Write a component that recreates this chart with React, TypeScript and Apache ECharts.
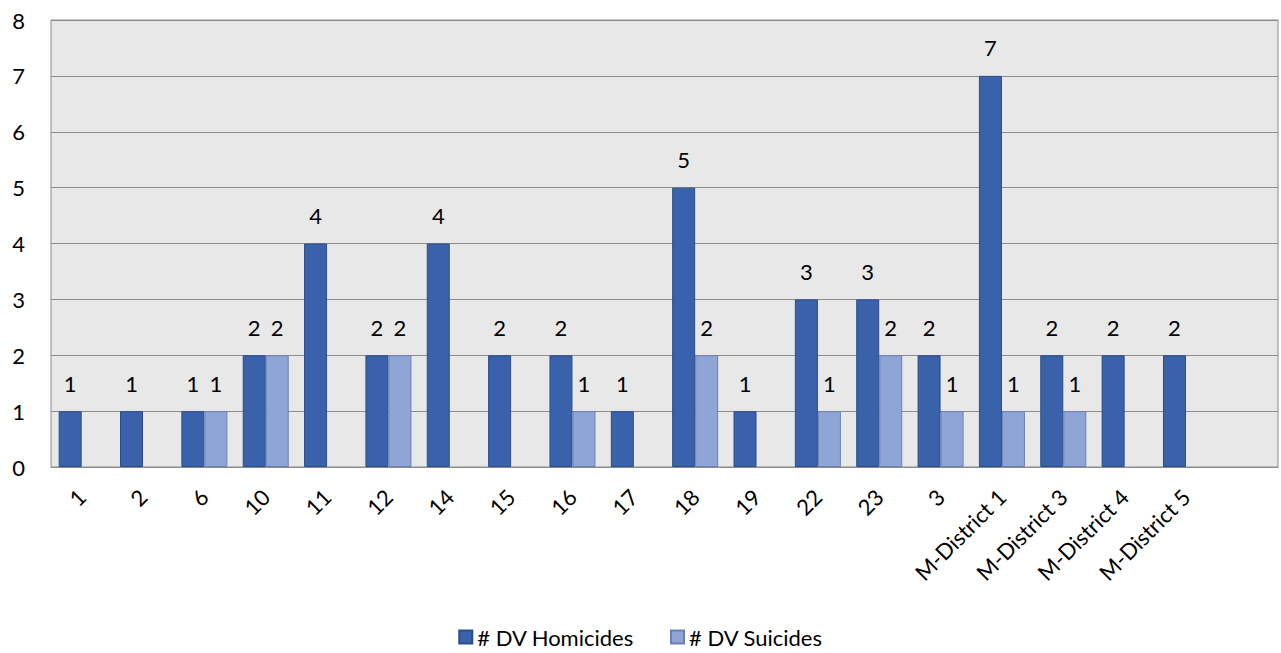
import React, { useEffect, useRef } from "react";
import * as echarts from "echarts";

const categories = ["1", "2", "6", "10", "11", "12", "14", "15", "16", "17", "18", "19", "22", "23", "3", "M-District 1", "M-District 3", "M-District 4", "M-District 5", ""];
const homicides: (number | null)[] = [1, 1, 1, 2, 4, 2, 4, 2, 2, 1, 5, 1, 3, 3, 2, 7, 2, 2, 2, null];
const suicides: (number | null)[] = [null, null, 1, 2, null, 2, null, null, 1, null, 2, null, 1, 2, 1, 1, 1, null, null, null];
const yTicks = [0, 8, 1];

const FONT = "Lato, 'Noto Sans', sans-serif";
const FS = 22;

export default function App() {
  const ref = useRef<HTMLDivElement>(null);
  useEffect(() => {
    if (!ref.current) return;
    const chart = echarts.init(ref.current, undefined, { renderer: "svg" });
    const label = {
      show: true,
      position: "top" as const,
      distance: 17,
      color: "#000",
      fontSize: FS,
      fontFamily: FONT,
    };
    chart.setOption({
      animation: false,
      textStyle: { fontFamily: FONT },
      grid: {
        left: 51,
        right: 3,
        top: 20,
        bottom: 186,
        show: true,
        backgroundColor: "#e8e8e8",
        borderColor: "#8c8c8c",
        borderWidth: 1,
      },
      legend: {
        top: 621,
        left: "center",
        icon: "rect",
        itemWidth: 13,
        itemHeight: 13,
        itemGap: 36,
        textStyle: { fontSize: FS, color: "#000", fontFamily: FONT },
        data: ["# DV Homicides", "# DV Suicides"],
      },
      xAxis: {
        type: "category",
        data: categories,
        axisLine: { show: true, lineStyle: { color: "#8c8c8c" } },
        axisTick: { show: false },
        axisLabel: {
          rotate: 45,
          interval: 0,
          fontSize: FS,
          color: "#000",
          fontFamily: FONT,
          margin: 26,
        },
      },
      yAxis: {
        type: "value",
        min: yTicks[0],
        max: yTicks[1],
        interval: yTicks[2],
        axisLine: { show: false },
        axisTick: { show: false },
        axisLabel: { fontSize: FS, color: "#000", fontFamily: FONT, margin: 26 },
        splitLine: { lineStyle: { color: "#8c8c8c", width: 1 } },
      },
      series: [
        {
          name: "# DV Homicides",
          type: "bar",
          data: homicides,
          barGap: "0%",
          barCategoryGap: "25%",
          itemStyle: { color: "#3a62ab", borderColor: "#2b4c8a", borderWidth: 1 },
          label,
        },
        {
          name: "# DV Suicides",
          type: "bar",
          data: suicides,
          itemStyle: { color: "#8fa5d5", borderColor: "#6a80b4", borderWidth: 1 },
          label,
        },
      ],
    });
    return () => chart.dispose();
  }, []);
  return (
    <div
      ref={ref}
      style={{ position: "absolute", left: 0, top: 0, width: 1281, height: 653 }}
    />
  );
}
